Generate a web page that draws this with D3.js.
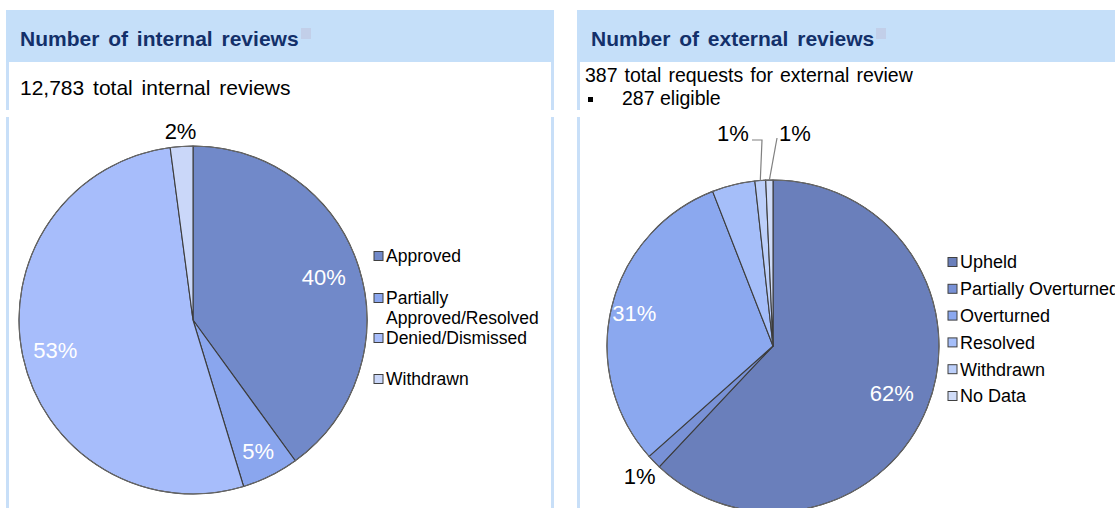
<!DOCTYPE html>
<html><head><meta charset="utf-8">
<script src="https://cdn.jsdelivr.net/npm/d3@7"></script>
<style>
html,body{margin:0;padding:0;background:#fff;}
svg{display:block;font-family:"Liberation Sans",Arial,sans-serif;}
</style></head>
<body>
<svg id="chart" width="1115" height="508"></svg>
<script>
// ---- data ----
const internalCategories = ["Approved", "Partially Approved/Resolved", "Denied/Dismissed", "Withdrawn"];
const internalValues = [5113, 678, 6724, 268];
const internalColors = ["#7189c9", "#8aa6ee", "#a7bdfb", "#cad7f9"];
const internalLegendLines = [["Approved"], ["Partially", "Approved/Resolved"], ["Denied/Dismissed"], ["Withdrawn"]];

const externalCategories = ["Upheld", "Partially Overturned", "Overturned", "Resolved", "Withdrawn", "No Data"];
const externalValues = [178, 4, 88, 12, 3, 2];
const externalColors = ["#6a7fbb", "#7891d6", "#8ba8ef", "#a5bef9", "#bccffa", "#d0dcf8"];

const titles = ["Number of internal reviews", "Number of external reviews"];
const internalSubtitle = ["12,783 total internal reviews"];
const externalSubtitle = ["387 total requests for external review", "287 eligible"];

// ---- drawing ----
const svg = d3.select("#chart");
const W = 1115, H = 508;
const headerFill = "#c5dff9", borderFill = "#c8dff8", titleColor = "#13306a";

function panel(x0, x1, title, squareX) {
  svg.append("rect").attr("x", x0).attr("y", 10).attr("width", x1 - x0).attr("height", 52).attr("fill", headerFill);
  svg.append("text").attr("x", x0 + 14).attr("y", 46).attr("font-size", 21).attr("font-weight", "bold")
    .attr("word-spacing", 3).attr("fill", titleColor).text(title);
  svg.append("rect").attr("x", squareX).attr("y", 28).attr("width", 10).attr("height", 11).attr("fill", "#c2cfe9");
  [[62, 110], [117, H]].forEach(([a, b]) => {
    svg.append("rect").attr("x", x0).attr("y", a).attr("width", 3).attr("height", b - a).attr("fill", borderFill);
    if (x1 < W) svg.append("rect").attr("x", x1 - 3).attr("y", a).attr("width", 3).attr("height", b - a).attr("fill", borderFill);
  });
}
panel(6, 554, titles[0], 301);
panel(577, 1125, titles[1], 876);

svg.append("text").attr("x", 20).attr("y", 95).attr("font-size", 21).attr("word-spacing", 3).attr("fill", "#000").text(internalSubtitle[0]);
svg.append("text").attr("x", 585).attr("y", 82).attr("font-size", 19.5).attr("word-spacing", 1.6).attr("fill", "#000").text(externalSubtitle[0]);
svg.append("rect").attr("x", 588).attr("y", 97).attr("width", 5).attr("height", 5).attr("fill", "#000");
svg.append("text").attr("x", 622).attr("y", 105).attr("font-size", 19.5).attr("fill", "#000").text(externalSubtitle[1]);

function drawPie(cx, cy, R, values, colors, labelOpts) {
  const g = svg.append("g").attr("transform", `translate(${cx},${cy})`);
  const pie = d3.pie().sort(null).value(d => d)(values);
  const arc = d3.arc().innerRadius(0).outerRadius(R);
  const total = d3.sum(values);
  g.selectAll("path.slice").data(pie).join("path").attr("class", "slice")
    .attr("d", arc).attr("fill", (d, i) => colors[i])
    .attr("stroke", "#3c3c3c").attr("stroke-width", 1.1).attr("stroke-linejoin", "round");
  g.append("circle").attr("r", R).attr("fill", "none").attr("stroke", "#6a6a6a").attr("stroke-width", 1);
  pie.forEach((d, i) => {
    const o = labelOpts[i];
    const mid = (d.startAngle + d.endAngle) / 2;
    const pct = Math.round(d.value / total * 100) + "%";
    let lx, ly;
    if (o.anchor) {
      lx = o.anchor[0]; ly = o.anchor[1];
      const ex = R * Math.sin(mid), ey = -R * Math.cos(mid);
      const pts = [[ex, ey]].concat(o.leader);
      g.append("path").attr("d", d3.line()(pts)).attr("fill", "none").attr("stroke", "#808080").attr("stroke-width", 1.2);
    } else {
      const r = o.r * R;
      lx = r * Math.sin(mid); ly = -r * Math.cos(mid);
    }
    g.append("text").attr("x", lx).attr("y", ly).attr("dy", "0.36em").attr("text-anchor", "middle")
      .attr("font-size", 22).attr("fill", o.color).text(pct);
  });
}

drawPie(193, 320, 174, internalValues, internalColors, [
  {r: 0.79, color: "#fff"},
  {r: 0.84, color: "#fff"},
  {r: 0.81, color: "#fff"},
  {r: 1.09, color: "#000"}
]);

drawPie(773, 346, 166, externalValues, externalColors, [
  {r: 0.77, color: "#fff"},
  {r: 1.12, color: "#000"},
  {r: 0.86, color: "#fff"},
  {r: 1.1, color: "#fff"},
  {anchor: [-40, -213], leader: [[-11, -206], [-12, -206], [-21, -206]], color: "#000"},
  {anchor: [22, -213], leader: [[4, -208]], color: "#000"}
]);

// legends
function legend(x, rows, colors, fontSize, sq) {
  rows.forEach((r, i) => {
    svg.append("rect").attr("x", x).attr("y", r.y - sq / 2).attr("width", sq).attr("height", sq)
      .attr("fill", colors[i]).attr("stroke", "#404040").attr("stroke-width", 1);
    r.lines.forEach((t, j) => {
      svg.append("text").attr("x", x + sq + 3).attr("y", r.y + j * 19.5).attr("dy", "0.36em")
        .attr("font-size", fontSize).attr("fill", "#000").text(t);
    });
  });
}
const internalLegendY = [256, 298, 338, 379];
legend(374, internalLegendLines.map((l, i) => ({lines: l, y: internalLegendY[i]})), internalColors, 17.5, 9);
legend(948, externalCategories.map((c, i) => ({lines: [c], y: 262 + i * 26.8})), externalColors, 18, 9);
</script>
</body></html>
